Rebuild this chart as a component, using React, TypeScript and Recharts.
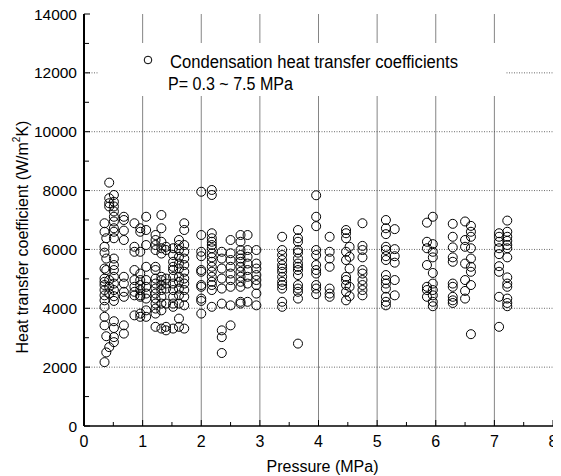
import React from "react";
import {
  ScatterChart,
  Scatter,
  XAxis,
  YAxis,
  ReferenceLine,
  Legend,
  Label,
} from "recharts";

// pressure of each measurement column (MPa)
const pressures = [
  0.35, 0.38, 0.43, 0.51, 0.68, 0.86, 0.96, 1.06, 1.22, 1.32, 1.4, 1.52, 1.62, 1.71,
  2.0, 2.18, 2.35, 2.5, 2.67, 2.79, 2.94,
  3.38, 3.65, 3.96, 4.19, 4.47, 4.53, 4.75,
  5.15, 5.3, 5.85, 5.95, 6.29, 6.5, 6.6, 7.08, 7.22,
];

// heat transfer coefficients per column (W/m2K)
const coefficients: number[][] = [
  [6890, 6600, 6090, 5890, 5350, 5010, 4900, 4790, 4620, 4440, 4270, 4050, 3710, 3420, 2170],
  [6380, 5690, 5300, 3050, 2500],
  [8270, 7740, 7570, 7460, 4960, 4730, 4500, 2680],
  [7850, 7620, 7460, 7290, 7110, 6950, 6720, 6600, 6380, 5690, 5470, 5300, 5070, 4840, 4620, 4410, 4250, 3560, 3330, 3020, 2850],
  [7110, 7000, 6640, 6320, 5070, 4840, 4560, 4390, 3420, 3140],
  [6890, 6090, 5920, 5300, 4960, 4730, 4560, 4440, 3760],
  [6720, 6600, 5920, 5180, 4960, 4790, 4620, 4440, 4390, 3820, 3710],
  [7110, 6660, 6150, 5410, 4960, 4730, 4500, 4330, 3930, 3710],
  [6490, 6320, 6150, 5980, 5410, 5300, 5010, 4840, 4670, 4500, 4330, 4160, 3990, 3820, 3370],
  [7170, 6720, 6260, 6040, 5860, 5070, 4960, 4790, 4620, 4390, 4160, 3930, 3310],
  [6090, 5980, 5010, 4840, 4670, 4160, 3370, 3250],
  [6040, 5810, 5580, 5410, 5300, 5070, 4840, 4620, 4390, 4160, 4050, 3310],
  [6320, 6150, 5980, 5750, 5520, 5350, 5070, 4900, 4670, 4440, 4160, 3650, 3370],
  [6890, 6660, 6150, 5920, 5690, 5470, 5240, 5010, 4840, 4620, 4390, 4100, 3310],
  [7960, 6490, 5920, 5770, 5300, 5240, 4790, 4730, 4330, 4250, 3820],
  [8020, 7850, 6550, 6380, 6260, 6150, 6040, 5870, 5730, 5580, 5410, 5240, 5070, 4900, 4790, 4620, 4050],
  [5920, 5690, 5350, 5010, 4670, 4160, 3250, 3020, 2480],
  [6320, 5870, 5640, 5410, 5180, 4960, 4730, 4100, 3420],
  [6490, 6260, 5980, 5810, 5690, 5580, 5410, 5240, 5070, 4900, 4730, 4220, 4160],
  [6490, 5980, 5750, 5520, 5300, 5070, 4840, 4220],
  [5980, 5520, 5350, 5130, 4960, 4790, 4500, 4100],
  [6430, 5980, 5810, 5640, 5470, 5350, 5240, 5070, 4900, 4790, 4670, 4220, 4050],
  [6660, 6380, 6260, 5980, 5890, 5690, 5520, 5410, 5300, 5130, 4790, 4670, 4560, 4330, 2800],
  [7840, 7110, 6790, 5980, 5810, 5470, 5300, 5180, 4790, 4670, 4480],
  [6430, 5920, 5690, 5410, 4670, 4500, 4390],
  [6660, 6550, 6380, 5920, 5640, 5070, 4960, 4790, 4560, 4270],
  [6090, 5750, 5350, 4730, 4410],
  [6890, 6120, 5980, 5730, 5300, 5180, 4960, 4790, 4620, 4440],
  [7000, 6720, 6520, 6090, 5980, 5770, 5640, 5130, 4960, 4840, 4670, 4390, 4220, 4100],
  [6690, 6010, 5770, 5550, 4960, 4440],
  [6910, 6260, 6040, 5470, 4730, 4620, 4390],
  [7110, 6180, 5920, 5730, 5200, 4840, 4620, 4440, 4220, 4070],
  [6870, 6430, 6070, 5730, 5580, 4840, 4730, 4390, 4270, 4180],
  [6950, 6320, 6090, 5520, 4960, 4590, 4330],
  [6800, 6600, 6430, 6040, 5690, 5410, 5240, 4790, 3120],
  [6550, 6430, 6260, 6040, 5840, 5430, 5240, 4390, 3370],
  [6980, 6600, 6430, 6290, 6150, 6040, 5730, 5050, 4840, 4730, 4330, 4180, 4070],
];

const xTicks = [0, 0.5, 1, 1.5, 2, 2.5, 3, 3.5, 4, 4.5, 5, 5.5, 6, 6.5, 7, 7.5, 8];
const yTicks = [0, 1000, 2000, 3000, 4000, 5000, 6000, 7000, 8000, 9000, 10000, 11000, 12000, 13000, 14000];
const xGrid = [1, 2, 3, 4, 5, 6, 7];
const yGrid = [2000, 4000, 6000, 8000, 10000, 12000];

const data = pressures.flatMap((p, i) => coefficients[i].map((h) => ({ p, h })));

const FONT = "'Liberation Sans', Arial, sans-serif";

const BottomTick = ({ x, y, payload }: any) => {
  const major = Number.isInteger(payload.value);
  return (
    <g>
      <line x1={x} x2={x} y1={y} y2={y - (major ? 6 : 4)} stroke="#000" />
      {major && (
        <text x={x} y={y + 21} textAnchor="middle" fontSize={16} fontFamily={FONT} fill="#000">
          {payload.value}
        </text>
      )}
    </g>
  );
};

const TopTick = ({ x, y }: any) => (
  <line x1={x} x2={x} y1={y} y2={y + 5} stroke="#000" />
);

const LeftTick = ({ x, y, payload }: any) => {
  const major = payload.value % 2000 === 0;
  return (
    <g>
      <line x1={x} x2={x + (major ? 6 : 5)} y1={y} y2={y} stroke="#000" />
      {major && (
        <text x={x - 7} y={y + 5.5} textAnchor="end" fontSize={15.5} fontFamily={FONT} fill="#000">
          {payload.value}
        </text>
      )}
    </g>
  );
};

const RightTick = ({ x, y }: any) => (
  <line x1={x} x2={x - 5} y1={y} y2={y} stroke="#000" />
);

const Circle = ({ cx, cy }: any) => (
  <circle cx={cx} cy={cy} r={4.5} fill="none" stroke="#000" strokeWidth={1} />
);

const LegendBox = () => (
  <svg width={407} height={53} style={{ display: "block" }}>
    <circle cx={50} cy={17} r={3.8} fill="none" stroke="#000" strokeWidth={1} />
    <text x={72} y={25} fontSize={18} fontFamily={FONT} textLength={288} lengthAdjust="spacingAndGlyphs">
      Condensation heat transfer coefficients
    </text>
    <text x={70} y={46.5} fontSize={18} fontFamily={FONT} textLength={125} lengthAdjust="spacingAndGlyphs">
      P= 0.3 ~ 7.5 MPa
    </text>
  </svg>
);

export default function App() {
  return (
    <div style={{ marginTop: -8 }}>
      <ScatterChart
        width={553}
        height={476}
        margin={{ top: 14, right: 8, bottom: 0, left: 0 }}
        style={{ fontFamily: FONT }}
      >
        <XAxis
          dataKey="p"
          type="number"
          domain={[0, 8]}
          ticks={xTicks}
          interval={0}
          height={50}
          tickSize={0}
          tickMargin={0}
          tickLine={false}
          tick={<BottomTick />}
          axisLine={{ stroke: "#000", strokeWidth: 1.5 }}
        >
          <Label
            content={({ viewBox }: any) => (
              <text
                x={viewBox.x + viewBox.width / 2 + 4}
                y={viewBox.y + 46}
                textAnchor="middle"
                fontSize={16}
                fontFamily={FONT}
              >
                Pressure (MPa)
              </text>
            )}
          />
        </XAxis>
        <XAxis
          xAxisId="top"
          orientation="top"
          dataKey="p"
          type="number"
          domain={[0, 8]}
          ticks={xTicks}
          interval={0}
          height={0}
          tickSize={0}
          tickMargin={0}
          tickLine={false}
          tick={<TopTick />}
          axisLine={{ stroke: "#000", strokeWidth: 1.2 }}
        />
        <YAxis
          dataKey="h"
          type="number"
          domain={[0, 14000]}
          ticks={yTicks}
          interval={0}
          width={76}
          tickSize={0}
          tickMargin={0}
          tickLine={false}
          tick={<LeftTick />}
          axisLine={{ stroke: "#000", strokeWidth: 2 }}
        >
          <Label
            content={({ viewBox }: any) => {
              const cx = 14;
              const cy = viewBox.y + viewBox.height / 2 + 17;
              return (
                <text
                  x={cx}
                  y={cy}
                  transform={`rotate(-90, ${cx}, ${cy})`}
                  textAnchor="middle"
                  dominantBaseline="central"
                  fontSize={16}
                  fontFamily={FONT}
                >
                  Heat transfer coefficient (W/m
                  <tspan baselineShift="super" fontSize={10}>2</tspan>
                  K)
                </text>
              );
            }}
          />
        </YAxis>
        <YAxis
          yAxisId="right"
          orientation="right"
          dataKey="h"
          type="number"
          domain={[0, 14000]}
          ticks={yTicks}
          interval={0}
          width={0}
          tickSize={0}
          tickMargin={0}
          tickLine={false}
          tick={<RightTick />}
          axisLine={{ stroke: "#000", strokeWidth: 1.2 }}
        />
        {xGrid.map((v) => (
          <ReferenceLine key={`vx${v}`} x={v} stroke="#666" strokeWidth={0.8} />
        ))}
        {yGrid.map((v) => (
          <ReferenceLine key={`hy${v}`} y={v} stroke="#444" strokeWidth={0.8} strokeDasharray="1 1.5" />
        ))}
        <Legend
          layout="horizontal"
          verticalAlign="middle"
          align="center"
          wrapperStyle={{ left: 90, top: 43, width: 407, height: 53, background: "#fff" }}
          content={() => <LegendBox />}
        />
        <Scatter
          name="Condensation heat transfer coefficients"
          data={data}
          shape={<Circle />}
          isAnimationActive={false}
        />
      </ScatterChart>
    </div>
  );
}
